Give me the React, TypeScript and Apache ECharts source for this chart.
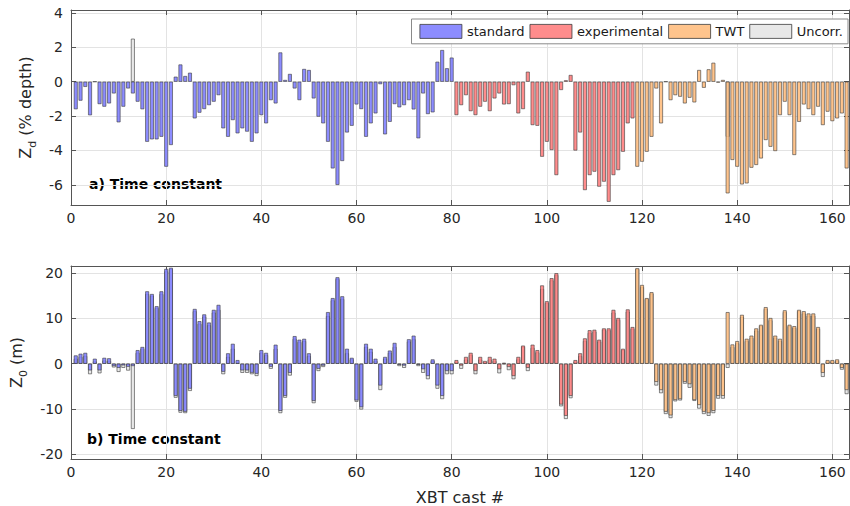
import React, { useEffect, useRef } from "react";
import * as echarts from "echarts";

// Cast index ranges per group
const STD_START = 1;
const EXP_START = 81;
const TWT_START = 119;

// Panel a) Z_d (% depth)
const stdTop = [
  -1.6, -1.1, -0.3, -1.95, 0, -1.3, -1.45, -1.26, -0.68, -2.36,
  -1.45, -0.39, -0.68, -1.16, -1.6, -3.49, -3.35, -3.35, -3.2, -4.94,
  -3.68, 0.29, 1.0, 0.33, 0.52, -2.13, -1.8, -1.59, -1.36, -1.16,
  -0.78, -2.71, -3.2, -2.23, -3.0, -2.71, -2.9, -3.49, -3.0, -1.94,
  -2.42, -1.07, -1.26, 1.7, 0.1, 0.45, -0.39, -1.07, 0.74, 0.68,
  -0.97, -2.03, -2.42, -3.49, -5.04, -6.0, -4.61, -2.95, -2.56, -1.32,
  -1.59, -3.2, -2.42, -1.84, -0.14, -3.06, -2.33, -1.3, -1.49, -1.36,
  -1.07, -1.61, -3.29, -0.68, -1.88, -1.78, 1.16, 1.84, 0.78, 1.4,
];
const expTop = [
  -1.94, -1.36, -0.78, -1.71, -1.94, -1.45, -1.16, -1.71, -0.97, -0.68,
  -1.32, -1.3, -0.2, -1.84, -1.59, 0.58, -2.52, -2.56, -4.36, -3.49,
  -3.97, -5.43, -0.48, 0.08, 0.39, -4.0, -2.95, -6.3, -5.43, -5.23,
  -6.1, -5.81, -6.98, -5.43, -5.14, -4.07, -2.42, -2.13,
];
const twtTop = [
  -4.94, -4.65, -4.07, -3.2, -0.39, -2.42, 0, -1.07, -0.78, -0.87,
  -1.26, -0.93, -1.2, 0.68, -0.35, 0.72, 1.1, -0.05, 0.1, -6.49,
  -4.55, -4.94, -5.97, -5.91, -5.0, -4.84, -4.46, -3.39, -3.78, -4.03,
  -1.94, -1.16, -1.94, -4.26, -2.33, -1.32, -1.59, -1.94, -1.45, -2.52,
  -1.74, -2.29, -2.13, -1.84, -5.04,
];
const uncorrTopCasts = [13, 138];
const uncorrTopValues = [2.5, -3.2];

// Panel b) Z_0 (m)
const stdBottom = [
  1.83, 2.2, 2.4, -1.46, 1.1, -1.46, 1.3, 1.2, -0.5, -0.9,
  -0.35, -0.66, -0.5, 3.0, 3.7, 16.0, 15.4, 12.7, 16.0, 20.95,
  21.2, -7.1, -10.4, -10.6, -5.5, 12.1, 9.4, 10.9, 9.1, 11.9,
  13.0, -1.76, 2.3, 4.4, 0.8, -1.46, -1.46, -1.98, -2.2, 3.0,
  2.4, -0.66, 4.2, -10.4, -7.1, -2.0, 6.1, 5.3, 5.5, 2.3,
  -8.2, -1.1, -0.4, 11.4, 14.5, 19.1, 14.9, 3.3, 1.3, -8.1,
  -9.6, 4.4, 3.3, 1.1, -4.8, 1.5, 2.9, 4.6, -0.2, -0.4,
  5.4, 6.2, -0.2, -1.2, -2.7, 0.95, -4.8, -7.1, -1.6, -1.6,
];
const expBottom = [
  0.8, -0.4, 1.5, 2.4, -1.6, 1.5, 0.6, 1.5, 1.1, -1.2,
  0.2, -0.7, -2.7, 1.5, 4.0, -0.9, 4.2, 3.0, 17.3, 13.8,
  18.9, 20.0, -9.0, -11.5, -7.1, 0.8, 2.3, 5.6, 7.4, 7.5,
  5.3, 7.8, 7.8, 11.9, 10.1, 3.3, 12.0, 8.1,
];
const twtBottom = [
  21.1, 17.4, 14.5, 15.8, -4.0, -5.8, -10.6, -11.4, -8.0, -7.8,
  -4.0, -4.5, -8.0, -9.1, -10.6, -10.9, -10.4, -7.1, -7.1, 11.4,
  4.25, 5.0, 10.8, 5.5, 6.2, 7.8, 8.6, 12.5, 10.1, 6.2,
  5.5, 11.8, 8.6, 8.3, 11.9, 11.6, 11.1, 11.1, 8.1, -2.0,
  0.8, 0.8, 0.95, -0.9, -5.8,
];
const uncorrBottom = [
  1.1, 1.5, 1.7, -2.3, 0.5, -2.1, 0.7, 0.6, -0.8, -1.8,
  -0.9, -1.5, -14.4, 2.4, 3.3, 15.4, 15.0, 12.3, 15.4, 20.4,
  20.9, -7.5, -10.8, -10.9, -6.0, 11.6, 8.8, 10.4, 8.5, 11.3,
  11.9, -2.3, 1.5, 3.3, 0.2, -2.0, -2.0, -2.3, -2.7, 2.4,
  1.9, -1.1, 3.3, -10.9, -7.5, -2.6, 5.5, 4.8, 5.0, 1.7,
  -8.7, -1.6, -0.7, 10.5, 14.0, 18.7, 14.3, 2.3, 0.95, -8.4,
  -10.1, 3.7, 2.6, 0.6, -5.8, 1.1, 2.4, 3.7, -0.5, -0.9,
  4.9, 5.4, -0.5, -2.0, -3.4, 0.6, -5.5, -7.8, -2.3, -2.3,
  0.4, -1.1, 0.9, 1.9, -2.3, 0.9, 0.3, 0.9, 0.6, -2.1,
  -0.1, -1.4, -3.4, 0.95, 3.7, -1.6, 3.5, 2.5, 16.5, 13.4,
  18.4, 19.6, -9.4, -12.2, -7.6, 0.4, 1.7, 5.0, 6.8, 7.1,
  4.9, 7.5, 7.4, 11.3, 9.7, 3.0, 11.5, 7.7, 20.9, 16.9,
  14.3, 15.5, -4.8, -6.5, -11.1, -12.0, -8.3, -8.1, -4.4, -5.3,
  -8.2, -9.9, -11.1, -11.5, -10.9, -7.7, -7.7, -0.9, 3.7, 4.5,
  10.3, 5.0, 5.7, 7.3, 8.3, 12.1, 9.6, 5.7, 5.0, 11.4,
  8.3, 7.9, 11.6, 11.1, 10.6, 10.6, 7.7, -2.9, 0.5, 0.5,
  0.6, -1.3, -6.7,
];

const legendNames = ["standard", "experimental", "TWT", "Uncorr."];
const panelLabels = ["a) Time constant", "b) Time constant"];

const COLORS: Record<string, string> = {
  standard: "rgba(128,128,255,0.9)",
  experimental: "rgba(255,128,128,0.9)",
  TWT: "rgba(255,190,128,0.9)",
  "Uncorr.": "#e8e8e8",
};

const FONT = "DejaVu Sans";
const X_MIN = 0;
const X_MAX = 163.5;
const X_INTERVAL = 20;

const toPairs = (start: number, vals: number[]) => vals.map((v, i) => [start + i, v]);

export default function App() {
  const ref = useRef<HTMLDivElement>(null);

  useEffect(() => {
    if (!ref.current) return;
    const chart = echarts.init(ref.current, undefined, { renderer: "svg" });

    const barBase = (name: string, gi: number, data: any[]) => ({
      type: "bar",
      name,
      xAxisIndex: gi,
      yAxisIndex: gi,
      data,
      barWidth: 3.8,
      barGap: "-100%",
      itemStyle: { color: COLORS[name], borderColor: "#3a3a3a", borderWidth: 0.6 },
      emphasis: { disabled: true },
    });

    const xMain = (gridIndex: number, withName: boolean) => ({
      type: "value",
      gridIndex,
      min: X_MIN,
      max: X_MAX,
      interval: X_INTERVAL,
      position: "bottom",
      name: withName ? "XBT cast #" : "",
      nameLocation: "middle",
      nameGap: 30,
      nameTextStyle: { fontFamily: FONT, fontSize: 16, color: "#262626" },
      axisLine: { show: true, onZero: false, lineStyle: { color: "#555", width: 1 } },
      axisTick: { show: true, inside: true, length: 5, lineStyle: { color: "#555" } },
      axisLabel: {
        show: true,
        fontFamily: FONT,
        fontSize: 14,
        color: "#262626",
        margin: 6,
        showMaxLabel: false,
      },
      splitLine: { show: true, lineStyle: { color: "#e3e3e3", width: 1 } },
    });
    const xMirror = (gridIndex: number) => ({
      type: "value",
      gridIndex,
      min: X_MIN,
      max: X_MAX,
      interval: X_INTERVAL,
      position: "top",
      axisLine: { show: true, onZero: false, lineStyle: { color: "#555", width: 1 } },
      axisTick: { show: true, inside: true, length: 5, lineStyle: { color: "#555" } },
      axisLabel: { show: false },
      splitLine: { show: false },
    });
    const yMain = (gridIndex: number, min: number, max: number, name: string) => ({
      type: "value",
      gridIndex,
      min,
      max,
      splitNumber: 5,
      position: "left",
      name,
      nameLocation: "middle",
      nameRotate: 90,
      nameGap: 32,
      nameTextStyle: {
        fontFamily: FONT,
        color: "#262626",
        rich: {
          a: { fontFamily: FONT, fontSize: 16, color: "#262626", lineHeight: 26 },
          b: { fontFamily: FONT, fontSize: 11, color: "#262626", verticalAlign: "bottom", lineHeight: 12 },
        },
      },
      axisLine: { show: true, onZero: false, lineStyle: { color: "#555", width: 1 } },
      axisTick: { show: true, inside: true, length: 5, lineStyle: { color: "#555" } },
      axisLabel: {
        fontFamily: FONT,
        fontSize: 14,
        color: "#262626",
        margin: 8,
        showMinLabel: false,
        showMaxLabel: false,
      },
      splitLine: { show: true, lineStyle: { color: "#e3e3e3", width: 1 } },
    });
    const yMirror = (gridIndex: number, min: number, max: number) => ({
      type: "value",
      gridIndex,
      min,
      max,
      splitNumber: 5,
      position: "right",
      axisLine: { show: true, onZero: false, lineStyle: { color: "#555", width: 1 } },
      axisTick: { show: true, inside: true, length: 5, lineStyle: { color: "#555" } },
      axisLabel: { show: false },
      splitLine: { show: false },
    });

    const option: any = {
      animation: false,
      backgroundColor: "#ffffff",
      textStyle: { fontFamily: FONT },
      grid: [
        { left: 71, right: 1, top: 10, height: 195 },
        { left: 71, right: 1, top: 266, height: 194 },
      ],
      xAxis: [xMain(0, false), xMirror(0), xMain(1, true), xMirror(1)],
      yAxis: [
        yMain(0, -7.17, 4.17, "{a|Z}{b|d}{a| (% depth)}"),
        yMirror(0, -7.17, 4.17),
        yMain(1, -21.05, 21.6, "{a|Z}{b|0}{a| (m)}"),
        yMirror(1, -21.05, 21.6),
      ],
      legend: {
        data: legendNames.map((n) => ({ name: n, icon: "rect" })),
        right: 2,
        top: 19,
        orient: "horizontal",
        itemWidth: 42,
        itemHeight: 14,
        itemGap: 5,
        padding: [5, 5, 5, 8],
        backgroundColor: "#ffffff",
        borderColor: "#8a8a8a",
        borderWidth: 1,
        borderRadius: 0,
        textStyle: { fontFamily: FONT, fontSize: 13, color: "#1a1a1a" },
        itemStyle: { borderColor: "#3a3a3a", borderWidth: 0.8 },
        selectedMode: false,
      },
      graphic: [
        {
          type: "text",
          left: 89,
          top: 177,
          style: { text: panelLabels[0], fontFamily: FONT, fontSize: 14, fontWeight: "bold", fill: "#000", lineWidth: 0 },
        },
        {
          type: "text",
          left: 87,
          top: 432,
          style: { text: panelLabels[1], fontFamily: FONT, fontSize: 14, fontWeight: "bold", fill: "#000", lineWidth: 0 },
        },
      ],
      series: [
        barBase("Uncorr.", 0, uncorrTopCasts.map((c, i) => [c, uncorrTopValues[i]])),
        barBase("standard", 0, toPairs(STD_START, stdTop)),
        barBase("experimental", 0, toPairs(EXP_START, expTop)),
        barBase("TWT", 0, toPairs(TWT_START, twtTop)),
        barBase("Uncorr.", 2, toPairs(1, uncorrBottom)),
        barBase("standard", 2, toPairs(STD_START, stdBottom)),
        barBase("experimental", 2, toPairs(EXP_START, expBottom)),
        barBase("TWT", 2, toPairs(TWT_START, twtBottom)),
      ],
    };

    chart.setOption(option);
    return () => chart.dispose();
  }, []);

  return (
    <div
      ref={ref}
      style={{ position: "fixed", left: 0, top: 0, width: 850, height: 506, background: "#fff" }}
    />
  );
}
